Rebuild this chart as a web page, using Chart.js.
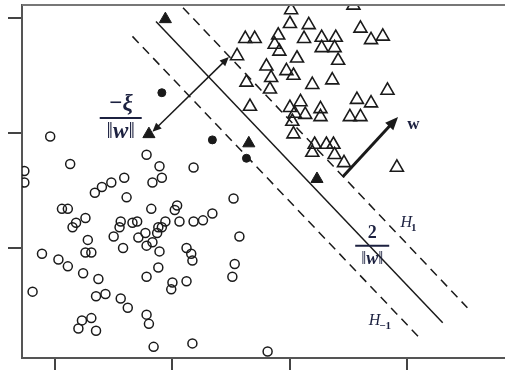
<!DOCTYPE html>
<html>
<head>
<meta charset="utf-8">
<script src="https://cdn.jsdelivr.net/npm/chart.js@4"></script>
<style>
  html, body { margin: 0; padding: 0; background: #fff; }
</style>
</head>
<body>
<canvas id="svmChart" width="505" height="372"></canvas>
<script>
// Axis ticks (no labels shown in the figure)
const xTicks = [1, 2, 3, 4];
const yTicks = [1, 2, 3];

// Class -1 (open circles)
const negX = [0.96, 1.13, 0.74, 0.74, 1.78, 1.89, 2.18, 1.91, 1.83, 1.59, 1.48, 1.40, 1.34, 1.61, 1.06,
  1.11, 1.26, 1.18, 1.15, 1.56, 1.55, 1.66, 1.70, 1.50, 1.28, 1.82, 2.04, 2.02, 2.52, 2.34,
  2.26, 2.18, 2.06, 1.94, 1.91, 1.88, 1.77, 1.87, 2.57, 1.71, 1.83, 1.78, 1.89, 1.58, 1.26,
  1.31, 0.89, 1.03, 1.11, 1.24, 1.37, 1.78, 1.88, 2.00, 1.99, 2.12, 2.12, 2.16, 2.17, 2.53,
  2.51, 0.81, 1.35, 1.43, 1.56, 1.62, 1.78, 1.80, 1.23, 1.31, 1.20, 1.35, 1.84, 2.17, 2.81];
const negY = [1.97, 1.73, 1.67, 1.57, 1.81, 1.71, 1.70, 1.61, 1.57, 1.61, 1.57, 1.53, 1.48, 1.44, 1.34,
  1.34, 1.26, 1.22, 1.18, 1.23, 1.18, 1.22, 1.23, 1.10, 1.07, 1.34, 1.37, 1.33, 1.43, 1.30,
  1.24, 1.23, 1.23, 1.23, 1.18, 1.18, 1.13, 1.13, 1.10, 1.09, 1.05, 1.02, 0.97, 1.00, 0.96,
  0.96, 0.95, 0.90, 0.84, 0.78, 0.73, 0.75, 0.83, 0.70, 0.64, 0.71, 1.00, 0.95, 0.89, 0.86,
  0.75, 0.62, 0.58, 0.60, 0.56, 0.48, 0.42, 0.34, 0.37, 0.39, 0.30, 0.28, 0.14, 0.17, 0.10];

// Class -1 slack points (filled circles)
const negSlackX = [1.91, 2.34, 2.63];
const negSlackY = [2.35, 1.94, 1.78];

// Class +1 (open triangles)
const posX = [3.01, 3.00, 3.16, 3.60, 3.69, 3.79, 2.62, 2.70, 2.90, 2.87, 2.91, 3.12, 3.27, 3.39, 3.27,
  3.38, 2.55, 3.06, 3.41, 2.80, 2.97, 3.03, 2.84, 2.63, 3.19, 3.36, 2.83, 3.83, 3.57, 3.69,
  2.66, 3.09, 3.00, 3.26, 3.04, 3.13, 3.26, 3.51, 3.60, 3.02, 3.03, 3.21, 3.31, 3.37, 3.19,
  3.38, 3.46, 3.91, 3.54];
const posY = [3.07, 2.95, 2.94, 2.91, 2.81, 2.84, 2.82, 2.82, 2.85, 2.77, 2.71, 2.82, 2.83, 2.83, 2.74,
  2.74, 2.67, 2.65, 2.63, 2.58, 2.54, 2.50, 2.48, 2.44, 2.42, 2.46, 2.38, 2.37, 2.29, 2.26,
  2.23, 2.27, 2.22, 2.21, 2.17, 2.16, 2.14, 2.14, 2.14, 2.10, 1.99, 1.90, 1.90, 1.90, 1.83,
  1.81, 1.74, 1.70, 3.11];

// Class +1 slack points (filled triangles)
const posSlackX = [1.94, 1.80, 2.65, 3.23];
const posSlackY = [2.99, 1.99, 1.91, 1.60];

// Separating hyperplane and margins (end points)
const planeX = [1.86, 4.30], planeY = [2.97, 0.35];
const h1X = [2.09, 4.51], h1Y = [3.09, 0.48];
const hm1X = [1.66, 4.12], hm1Y = [2.84, 0.20];

// Arrows: slack distance and normal vector w
const slackArrowX = [1.83, 2.48], slackArrowY = [2.01, 2.66];
const wArrowX = [3.45, 3.92], wArrowY = [1.62, 2.14];

const zip = (xs, ys) => xs.map((v, i) => ({ x: v, y: ys[i] }));
const ink = '#1a1a1a';
const mathInk = '#1c2140';
const serif = '"Liberation Serif", "DejaVu Serif", serif';

function drawArrow(ctx, x1, y1, x2, y2, headLen, headW, lw, both) {
    const ang = Math.atan2(y2 - y1, x2 - x1);
    const cos = Math.cos(ang), sin = Math.sin(ang);
    let sx = x1, sy = y1;
    if (both) { sx = x1 + cos * headLen * 0.8; sy = y1 + sin * headLen * 0.8; }
    const ex = x2 - cos * headLen * 0.8, ey = y2 - sin * headLen * 0.8;
    ctx.save();
    ctx.strokeStyle = ink;
    ctx.fillStyle = ink;
    ctx.lineWidth = lw;
    ctx.beginPath();
    ctx.moveTo(sx, sy);
    ctx.lineTo(ex, ey);
    ctx.stroke();
    const head = (tx, ty, c, s) => {
        ctx.beginPath();
        ctx.moveTo(tx, ty);
        ctx.lineTo(tx - c * headLen - s * headW, ty - s * headLen + c * headW);
        ctx.lineTo(tx - c * headLen + s * headW, ty - s * headLen - c * headW);
        ctx.closePath();
        ctx.fill();
    };
    head(x2, y2, cos, sin);
    if (both) head(x1, y1, -cos, -sin);
    ctx.restore();
}

// draws a row of [text, font] pieces centred on cx
function drawPieces(ctx, pieces, cx, cy) {
    let total = 0;
    pieces.forEach(p => { ctx.font = p[1]; total += ctx.measureText(p[0]).width; });
    let x = cx - total / 2;
    pieces.forEach(p => {
        ctx.font = p[1];
        ctx.fillText(p[0], x, cy);
        x += ctx.measureText(p[0]).width;
    });
}

function normPieces(size) {
    const bar = size + 'px ' + serif;
    return [['\u2016', bar], ['w', 'bold italic ' + size + 'px ' + serif], ['\u2016', bar]];
}

function drawFraction(ctx, cx, numY, barY, denY, numPieces, denPieces, halfW) {
    ctx.save();
    ctx.fillStyle = mathInk;
    ctx.strokeStyle = mathInk;
    ctx.textAlign = 'left';
    ctx.textBaseline = 'middle';
    drawPieces(ctx, numPieces, cx, numY);
    drawPieces(ctx, denPieces, cx, denY);
    ctx.lineWidth = 2;
    ctx.beginPath();
    ctx.moveTo(cx - halfW, barY);
    ctx.lineTo(cx + halfW, barY);
    ctx.stroke();
    ctx.restore();
}

function drawH(ctx, hx, hy, sub) {
    ctx.save();
    ctx.fillStyle = mathInk;
    ctx.textBaseline = 'alphabetic';
    ctx.textAlign = 'left';
    ctx.font = 'italic 16px ' + serif;
    ctx.fillText('H', hx, hy);
    const w = ctx.measureText('H').width;
    ctx.font = 'bold 11px ' + serif;
    ctx.fillText(sub, hx + w - 1, hy + 4);
    ctx.restore();
}

const overlay = {
    id: 'overlay',
    afterDatasetsDraw(chart) {
        const { ctx, chartArea, scales: { x, y } } = chart;
        const px = v => x.getPixelForValue(v);
        const py = v => y.getPixelForValue(v);

        // top frame line
        ctx.save();
        ctx.strokeStyle = '#777';
        ctx.lineWidth = 2;
        ctx.beginPath();
        ctx.moveTo(chartArea.left, chartArea.top);
        ctx.lineTo(chartArea.right, chartArea.top);
        ctx.stroke();
        ctx.restore();

        drawArrow(ctx, px(slackArrowX[0]), py(slackArrowY[0]), px(slackArrowX[1]), py(slackArrowY[1]), 9, 4, 1.5, true);
        drawArrow(ctx, px(wArrowX[0]), py(wArrowY[0]), px(wArrowX[1]), py(wArrowY[1]), 13, 5.5, 3, false);

        ctx.save();
        ctx.fillStyle = mathInk;
        ctx.textAlign = 'center';
        ctx.textBaseline = 'middle';
        ctx.font = 'bold 17px ' + serif;
        ctx.fillText('w', px(4.05), py(2.07));
        ctx.restore();

        drawFraction(ctx, px(1.56), py(2.25), py(2.13), py(2.01),
            [['\u2212\u03be', 'bold italic 23px ' + serif]], normPieces(23), 21);
        drawFraction(ctx, px(3.70), py(1.13), py(1.02), py(0.90),
            [['2', 'bold 18px ' + serif]], normPieces(18), 17);

        drawH(ctx, px(3.94), py(1.18), '1');
        drawH(ctx, px(3.67), py(0.33), '\u22121');
    }
};

const ctx = document.getElementById('svmChart').getContext('2d');
new Chart(ctx, {
    type: 'scatter',
    data: {
        datasets: [
            {
                data: zip(planeX, planeY), showLine: true, pointRadius: 0,
                borderColor: ink, borderWidth: 1.5
            },
            {
                data: zip(h1X, h1Y), showLine: true, pointRadius: 0,
                borderColor: ink, borderWidth: 1.5, borderDash: [9, 6]
            },
            {
                data: zip(hm1X, hm1Y), showLine: true, pointRadius: 0,
                borderColor: ink, borderWidth: 1.5, borderDash: [9, 6]
            },
            {
                data: zip(negX, negY), pointStyle: 'circle', pointRadius: 4.5,
                borderColor: ink, backgroundColor: 'rgba(0,0,0,0)', borderWidth: 1.5
            },
            {
                data: zip(negSlackX, negSlackY), pointStyle: 'circle', pointRadius: 4,
                borderColor: ink, backgroundColor: ink, borderWidth: 1
            },
            {
                data: zip(posX, posY), pointStyle: 'triangle', pointRadius: 7.5,
                borderColor: ink, backgroundColor: 'rgba(0,0,0,0)', borderWidth: 1.6, clip: 0
            },
            {
                data: zip(posSlackX, posSlackY), pointStyle: 'triangle', pointRadius: 7,
                borderColor: ink, backgroundColor: ink, borderWidth: 1
            }
        ]
    },
    options: {
        responsive: false,
        animation: false,
        layout: { autoPadding: false, padding: { left: 8, top: 5, right: 0, bottom: 2 } },
        plugins: {
            legend: { display: false },
            tooltip: { enabled: false }
        },
        scales: {
            x: {
                type: 'linear', min: 0.72, max: 4.83,
                afterBuildTicks: s => { s.ticks = xTicks.map(v => ({ value: v })); },
                ticks: { display: false },
                grid: { drawOnChartArea: false, tickLength: 12, color: '#444', lineWidth: 2 },
                border: { color: '#555', width: 2 }
            },
            y: {
                type: 'linear', min: 0.043, max: 3.113,
                afterBuildTicks: s => { s.ticks = yTicks.map(v => ({ value: v })); },
                ticks: { display: false },
                grid: { drawOnChartArea: false, tickLength: 14, color: '#444', lineWidth: 2 },
                border: { color: '#555', width: 2 }
            }
        }
    },
    plugins: [overlay]
});
</script>
</body>
</html>
